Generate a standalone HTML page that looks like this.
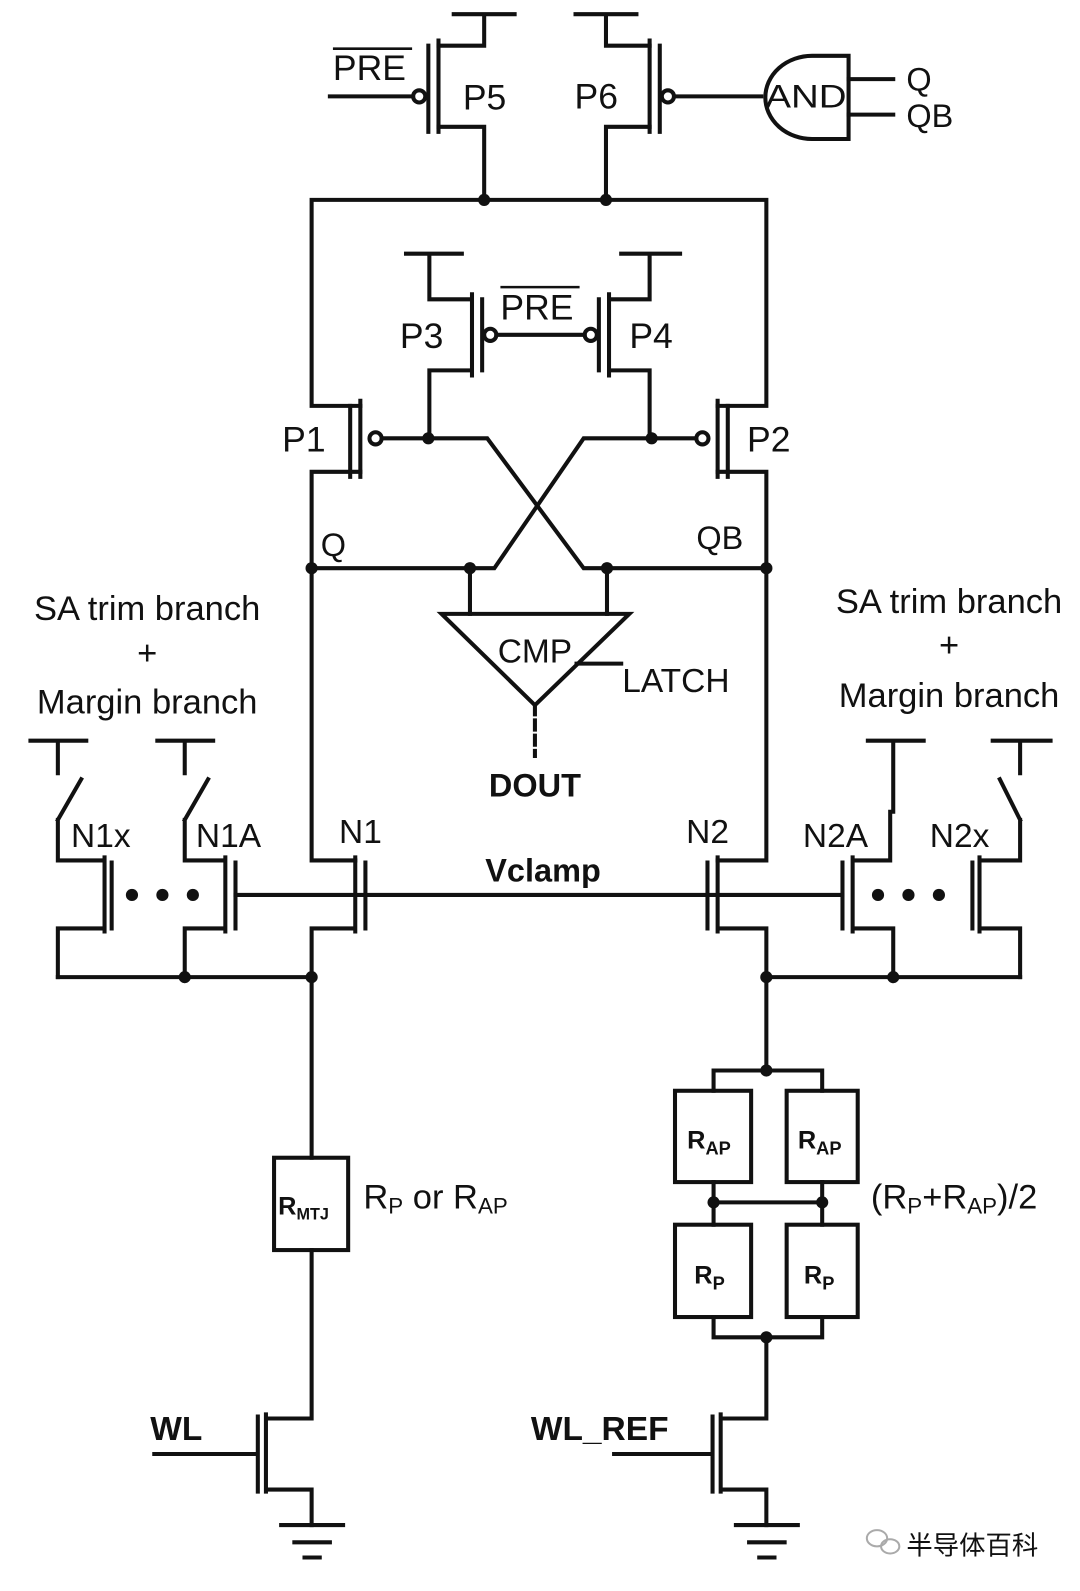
<!DOCTYPE html>
<html><head><meta charset="utf-8"><style>
html,body{margin:0;padding:0;background:#fff;}
svg{display:block;}
text{font-family:"Liberation Sans",Arial,sans-serif;fill:#111;}
</style></head><body>
<svg width="1080" height="1591" viewBox="0 0 1064 1568" preserveAspectRatio="none" xmlns="http://www.w3.org/2000/svg">
<g stroke="#111" stroke-width="4" fill="none" stroke-linecap="square">
<path d="M447 14H507M477 14V45H432M432 125H477V197"/>
<path d="M432 40V130M422 45V130"/>
<path d="M325 95H407"/>
<circle cx="413" cy="95" r="6"/>
<path d="M567 14H627M597 14V45H640M640 125H597V197"/>
<path d="M640 40V130M650 45V130"/>
<circle cx="658" cy="95" r="6"/>
<path d="M664 95H750"/>
<path d="M836 55H800A46 41 0 0 0 800 137H836Z"/>
<path d="M836 78H880M836 113H880"/>
<path d="M307 197H755M307 197V400H355M755 197V400H707"/>
<path d="M355 395V470M345 400V470"/>
<circle cx="370" cy="432" r="6"/>
<path d="M376 432H480L575 560H755"/>
<path d="M355 465H307V848H350"/>
<path d="M707 395V470M717 400V470"/>
<circle cx="692" cy="432" r="6"/>
<path d="M686 432H575L487 560H307"/>
<path d="M707 465H755V848H707"/>
<path d="M400 250H455M423 250V295H465M465 290V370M475 295V365M465 365H423V432"/>
<circle cx="483" cy="330" r="6"/>
<path d="M489 330H576"/>
<circle cx="582" cy="330" r="6"/>
<path d="M612 250H670M640 250V295H600M600 290V370M590 295V365M600 365H640V432"/>
<path d="M463 560V605M598 560V605"/>
<path d="M435 605H620L527 695Z"/>
<path d="M568 654H612"/>
<path d="M527 695V745" stroke-dasharray="9 6"/>
<path d="M30 730H85M57 730V762M80 768L57 808M57 808V848H103M103 845V918M110 850V915M103 915H57V963"/>
<path d="M155 730H210M182 730V762M205 768L182 808M182 808V848H222M222 845V918M232 850V915M222 915H182V963"/>
<path d="M350 845V918M360 850V915M350 915H307V1141"/>
<path d="M57 963H307"/>
<path d="M232 882H830"/>
<path d="M707 845V918M697 850V915M707 915H755V1055"/>
<path d="M855 730H910M880 730V800M877 800V848H840M840 845V918M830 850V915M840 915H880V963"/>
<path d="M978 730H1035M1005 730V762M985 768L1005 808M1005 808V848H965M965 845V918M958 850V915M965 915H1005V963"/>
<path d="M755 963H1005"/>
<rect x="270" y="1141" width="73" height="91"/>
<path d="M307 1232V1398H262M262 1394V1470M254 1396V1470M152 1433H254M262 1468H307V1503"/>
<path d="M277 1503H338M290 1520H325M300 1535H315"/>
<path d="M703 1075V1055H810V1075"/>
<rect x="665" y="1075" width="75" height="90"/>
<rect x="775" y="1075" width="70" height="90"/>
<path d="M703 1165V1207M810 1165V1207M703 1185H810"/>
<rect x="665" y="1207" width="75" height="91"/>
<rect x="775" y="1207" width="70" height="91"/>
<path d="M703 1298V1318H810V1298M755 1318V1398H710M710 1394V1470M702 1396V1470M605 1433H702M710 1468H755V1503"/>
<path d="M725 1503H786M738 1520H773M748 1535H763"/>
</g>
<g fill="#111">
<circle cx="477" cy="197" r="6"/><circle cx="597" cy="197" r="6"/>
<circle cx="422" cy="432" r="6"/><circle cx="642" cy="432" r="6"/>
<circle cx="307" cy="560" r="6"/><circle cx="755" cy="560" r="6"/>
<circle cx="463" cy="560" r="6"/><circle cx="598" cy="560" r="6"/>
<circle cx="182" cy="963" r="6"/><circle cx="307" cy="963" r="6"/>
<circle cx="755" cy="963" r="6"/><circle cx="880" cy="963" r="6"/>
<circle cx="755" cy="1055" r="6"/><circle cx="703" cy="1185" r="6"/><circle cx="810" cy="1185" r="6"/><circle cx="755" cy="1318" r="6"/>
<circle cx="130" cy="882" r="6"/><circle cx="160" cy="882" r="6"/><circle cx="190" cy="882" r="6"/>
<circle cx="865" cy="882" r="6"/><circle cx="895" cy="882" r="6"/><circle cx="925" cy="882" r="6"/>
</g>
<g font-size="35">
<text x="328" y="79">PRE</text>
<text x="456" y="108">P5</text>
<text x="566" y="107">P6</text>
<text x="754" y="106" font-size="32" textLength="80" lengthAdjust="spacingAndGlyphs">AND</text>
<text x="893" y="89" font-size="32">Q</text>
<text x="893" y="125" font-size="32">QB</text>
<text x="394" y="343">P3</text>
<text x="620" y="343">P4</text>
<text x="493" y="315">PRE</text>
<text x="278" y="445">P1</text>
<text x="736" y="445">P2</text>
<text x="316" y="548" font-size="32">Q</text>
<text x="686" y="541" font-size="32">QB</text>
<text x="527" y="653" text-anchor="middle" font-size="33">CMP</text>
<text x="613" y="682" font-size="33">LATCH</text>
<text x="527" y="785" text-anchor="middle" font-weight="bold" font-size="32">DOUT</text>
<text x="70" y="835" font-size="33">N1x</text>
<text x="193" y="835" font-size="33">N1A</text>
<text x="334" y="831" font-size="33">N1</text>
<text x="676" y="831" font-size="33">N2</text>
<text x="791" y="835" font-size="33">N2A</text>
<text x="916" y="835" font-size="33">N2x</text>
<text x="535" y="869" text-anchor="middle" font-weight="bold" font-size="32">Vclamp</text>
<text x="148" y="1419" font-weight="bold" font-size="33">WL</text>
<text x="523" y="1419" font-weight="bold" font-size="33">WL_REF</text>
</g>
<path d="M328 48H406M493 283H571" stroke="#111" stroke-width="2.5"/>
<g fill="#999" font-size="34" text-anchor="middle">
<text x="145" y="611">SA trim branch</text>
<text x="145" y="655">+</text>
<text x="145" y="703">Margin branch</text>
<text x="935" y="604">SA trim branch</text>
<text x="935" y="647">+</text>
<text x="935" y="697">Margin branch</text>
</g>
<g font-weight="bold" font-size="25">
<text x="274" y="1197">R<tspan font-size="16" dy="5">MTJ</tspan></text>
<text x="677" y="1132">R<tspan font-size="18" dy="6">AP</tspan></text>
<text x="786" y="1132">R<tspan font-size="18" dy="6">AP</tspan></text>
<text x="684" y="1265">R<tspan font-size="18" dy="6">P</tspan></text>
<text x="792" y="1265">R<tspan font-size="18" dy="6">P</tspan></text>
</g>
<g font-size="34">
<text x="358" y="1191">R<tspan font-size="22" dy="5">P</tspan><tspan dy="-5"> or R</tspan><tspan font-size="22" dy="5">AP</tspan></text>
<text x="858" y="1191">(R<tspan font-size="22" dy="5">P</tspan><tspan dy="-5">+R</tspan><tspan font-size="22" dy="5">AP</tspan><tspan dy="-5">)/2</tspan></text>
</g>
<g fill="none" stroke="#aaa" stroke-width="2">
<ellipse cx="864" cy="1516" rx="10" ry="8"/><ellipse cx="877" cy="1524" rx="9" ry="7"/>
</g>
<text x="893" y="1532" font-size="26" fill="#999" style="font-family:'Liberation Sans','Noto Sans CJK SC',sans-serif">半导体百科</text>
</svg>
</body></html>
